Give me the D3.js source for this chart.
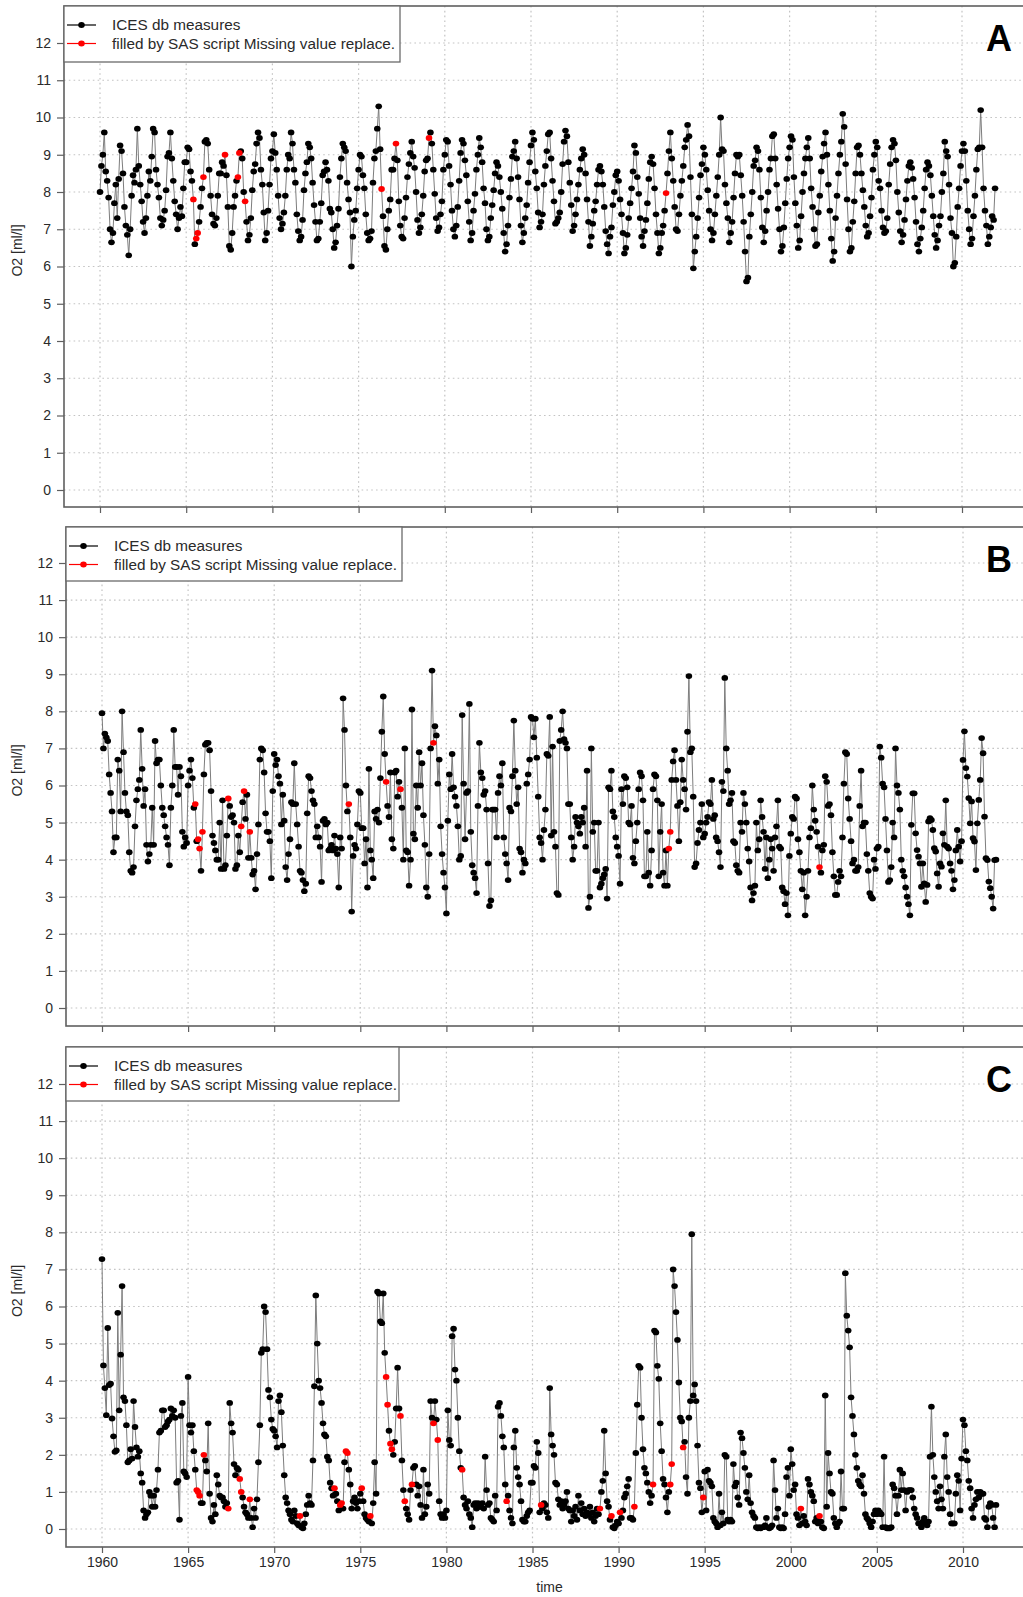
<!DOCTYPE html>
<html>
<head>
<meta charset="utf-8">
<script src="https://cdn.jsdelivr.net/npm/d3@7"></script>
<style>
  html, body { margin: 0; padding: 0; background: #fff; }
  svg { display: block; }
  text { font-family: "Liberation Sans", Arial, Helvetica, sans-serif; }
</style>
</head>
<body>
<svg id="chart" width="1023" height="1597"></svg>
<script>
// ---- data: monthly O2 [ml/l], one row per year (Jan..Dec), 1960-2011 ----
const firstYear = 1960;
const yTicks = [0, 1, 2, 3, 4, 5, 6, 7, 8, 9, 10, 11, 12];
const xTicks = [1960, 1965, 1970, 1975, 1980, 1985, 1990, 1995, 2000, 2005, 2010];
const legendLabels = ["ICES db measures", "filled by SAS script Missing value replace."];
const panelLetters = ["A", "B", "C"];
const yAxisTitle = "O2 [ml/l]";
const xAxisTitle = "time";

const oxygenA = [
  [8.0, 8.7, 9.0, 9.6, 8.55, 8.3, 7.85, 7.0, 6.65, 6.9, 7.7, 8.2],
  [7.3, 8.35, 9.25, 9.1, 8.5, 7.6, 7.1, 6.85, 6.3, 7.0, 7.9, 8.45],
  [8.25, 8.6, 9.7, 8.7, 8.2, 7.75, 7.2, 6.9, 7.3, 7.9, 8.55, 8.3],
  [8.95, 9.7, 9.6, 8.6, 8.2, 7.85, 7.3, 7.1, 7.25, 7.5, 8.05, 8.95],
  [9.05, 9.6, 8.9, 8.3, 7.75, 7.4, 7.0, 7.3, 7.6, 7.35, 8.1, 8.8],
  [8.8, 9.2, 9.15, 8.55, 8.3, 7.8, 6.6, 6.75, 6.9, 7.2, 7.6, 8.1],
  [8.4, 9.35, 9.4, 9.3, 8.6, 7.9, 7.4, 7.15, 7.1, 7.3, 7.9, 8.5],
  [8.5, 8.8, 8.7, 9.0, 8.45, 7.6, 6.55, 6.45, 6.9, 7.6, 7.9, 8.3],
  [8.4, 9.05, 9.1, 8.9, 8.0, 7.75, 7.2, 6.7, 6.85, 7.3, 8.05, 8.55],
  [8.75, 9.3, 9.6, 9.45, 8.6, 8.2, 7.45, 6.7, 6.9, 7.5, 8.2, 8.9],
  [9.1, 9.55, 9.05, 8.6, 7.9, 7.3, 7.0, 7.15, 7.45, 7.9, 8.6, 9.0],
  [8.9, 9.6, 9.3, 8.6, 8.25, 7.4, 6.95, 6.7, 6.8, 7.25, 8.05, 8.5],
  [8.8, 9.3, 9.2, 8.9, 8.25, 7.65, 7.2, 6.7, 6.75, 7.2, 7.7, 8.45],
  [8.55, 8.8, 8.6, 8.3, 7.55, 7.45, 7.0, 6.5, 6.65, 7.1, 7.55, 8.4],
  [8.9, 9.3, 9.2, 9.1, 8.25, 7.8, 7.45, 6.0, 6.8, 7.25, 7.5, 8.1],
  [8.6, 9.0, 8.95, 8.45, 8.1, 7.4, 6.9, 6.7, 6.75, 6.95, 8.25, 8.9],
  [9.1, 9.7, 10.3, 9.15, 8.08, 7.35, 6.55, 6.45, 7.0, 7.5, 7.8, 8.6],
  [8.6, 8.9, 9.3, 8.85, 7.75, 7.1, 6.8, 6.75, 7.3, 7.85, 8.4, 8.75],
  [9.05, 9.35, 8.95, 8.65, 8.0, 7.25, 6.9, 7.05, 7.4, 7.9, 8.55, 8.85],
  [8.9, 9.45, 9.6, 9.3, 8.6, 7.95, 7.3, 6.95, 7.05, 7.4, 7.75, 8.6],
  [9.0, 9.4, 9.35, 8.7, 8.2, 7.5, 7.0, 6.8, 7.1, 7.6, 8.3, 9.05],
  [9.4, 9.3, 8.85, 8.45, 7.75, 7.2, 6.7, 6.9, 7.5, 7.95, 8.6, 9.0],
  [9.45, 9.2, 8.8, 8.1, 7.7, 7.0, 6.7, 6.8, 7.3, 7.65, 8.05, 8.5],
  [8.8, 8.7, 8.4, 8.0, 7.55, 6.9, 6.4, 6.6, 7.1, 7.85, 8.35, 8.95],
  [9.1, 9.35, 8.9, 8.4, 7.8, 7.1, 6.65, 6.9, 7.3, 7.65, 8.25, 8.8],
  [9.25, 9.6, 9.4, 8.55, 8.1, 7.45, 7.05, 7.2, 7.4, 8.2, 8.7, 9.1],
  [9.55, 9.6, 8.9, 8.3, 7.75, 7.15, 7.2, 7.3, 7.45, 8.0, 8.75, 9.35],
  [9.65, 9.5, 8.8, 8.25, 7.65, 6.95, 7.1, 7.4, 7.8, 8.2, 8.6, 8.9],
  [9.15, 9.0, 8.5, 7.8, 7.2, 6.55, 6.8, 7.15, 7.5, 7.75, 8.2, 8.6],
  [8.7, 8.55, 8.2, 7.6, 6.95, 6.6, 6.35, 6.8, 7.05, 7.65, 8.0, 8.45],
  [8.55, 8.3, 7.8, 7.4, 6.9, 6.35, 6.5, 6.85, 7.3, 7.7, 8.1, 8.55],
  [9.25, 9.05, 8.4, 7.95, 7.3, 6.8, 6.55, 6.95, 7.25, 7.7, 8.35, 8.8],
  [8.95, 8.75, 8.1, 7.4, 6.9, 6.35, 6.5, 6.9, 7.1, 7.5, 7.97, 8.5],
  [9.1, 9.6, 8.9, 8.3, 7.6, 7.0, 6.95, 7.4, 7.9, 8.3, 8.7, 9.2],
  [9.4, 9.8, 9.5, 8.4, 7.4, 5.95, 6.4, 6.8, 7.3, 7.85, 8.45, 8.75],
  [9.2, 9.0, 8.6, 8.05, 7.5, 7.0, 6.7, 6.9, 7.4, 7.9, 8.4, 9.0],
  [10.0, 9.15, 9.1, 8.2, 7.7, 7.3, 6.65, 6.9, 7.2, 7.85, 8.5, 9.0],
  [8.95, 9.0, 8.45, 7.9, 7.2, 6.4, 5.6, 5.7, 6.8, 7.4, 8.0, 8.7],
  [8.85, 9.2, 9.1, 8.6, 7.85, 7.05, 6.65, 6.95, 7.5, 8.0, 8.6, 8.9],
  [9.5, 9.55, 8.9, 8.2, 7.55, 7.0, 6.4, 6.55, 7.05, 7.7, 8.35, 8.9],
  [9.2, 9.5, 9.4, 8.4, 7.7, 7.1, 6.5, 6.7, 7.35, 8.0, 8.5, 8.9],
  [9.2, 9.45, 8.9, 8.1, 7.6, 7.0, 6.55, 6.6, 7.45, 7.9, 8.55, 8.95],
  [9.3, 9.6, 9.0, 8.2, 7.5, 6.75, 6.15, 6.4, 7.3, 7.9, 8.5, 9.0],
  [9.35, 10.1, 9.75, 8.75, 7.8, 7.0, 6.4, 6.5, 7.2, 7.75, 8.5, 9.2],
  [9.25, 9.0, 8.5, 8.05, 7.6, 7.1, 6.8, 6.9, 7.35, 7.85, 8.6, 9.0],
  [9.35, 9.2, 8.3, 8.1, 7.5, 7.05, 6.9, 6.95, 7.3, 8.2, 8.75, 9.2],
  [9.4, 9.3, 8.85, 8.0, 7.45, 6.95, 6.65, 6.85, 7.25, 7.8, 8.3, 8.7],
  [8.8, 8.65, 8.35, 7.85, 7.2, 6.6, 6.4, 6.75, 7.05, 7.5, 8.1, 8.6],
  [8.8, 8.7, 8.45, 7.9, 7.35, 6.85, 6.5, 6.7, 7.1, 7.35, 8.0, 8.5],
  [9.35, 9.1, 8.95, 8.2, 7.3, 6.9, 6.0, 6.1, 6.8, 7.6, 8.1, 8.7],
  [9.1, 9.3, 9.1, 8.3, 7.5, 7.0, 6.6, 6.75, 7.35, 7.9, 8.6, 9.15],
  [9.2, 10.2, 9.2, 8.1, 7.5, 7.1, 6.6, 6.8, 7.05, 7.35, 7.25, 8.1]
];
const filledA = [[1965,5],[1965,7],[1965,8],[1966,0],[1967,3],[1968,0],[1968,1],[1968,5],
  [1976,4],[1977,2],[1979,1],[1992,10]];

const oxygenB = [
  [7.95, 7.0, 7.4, 7.3, 7.2, 6.3, 5.8, 5.3, 4.2, 4.6, 4.6, 6.7],
  [6.4, 5.3, 8.0, 6.9, 5.8, 5.3, 5.2, 4.2, 3.7, 3.65, 3.8, 4.9],
  [5.6, 5.9, 6.15, 7.5, 6.45, 5.45, 5.9, 4.4, 3.95, 4.15, 4.4, 5.4],
  [4.4, 7.2, 6.6, 6.7, 6.7, 6.0, 5.4, 5.2, 4.9, 4.6, 4.4, 3.85],
  [5.4, 6.0, 7.5, 6.5, 6.5, 5.75, 6.5, 6.25, 4.75, 4.35, 4.6, 4.45],
  [6.0, 6.4, 6.7, 6.2, 5.4, 5.5, 4.5, 4.55, 4.3, 3.7, 4.75, 6.3],
  [7.1, 7.15, 7.15, 6.95, 5.85, 4.65, 4.45, 4.25, 4.0, 4.0, 5.0, 3.75],
  [5.6, 3.75, 3.85, 4.65, 5.65, 5.45, 5.15, 5.2, 5.0, 3.75, 3.85, 4.65],
  [4.2, 4.9, 5.55, 5.85, 5.1, 5.75, 4.05, 4.75, 4.05, 3.6, 3.7, 3.2],
  [4.15, 4.95, 6.7, 7.0, 6.95, 6.35, 5.25, 4.75, 4.75, 4.5, 3.5, 5.85],
  [6.85, 6.55, 6.7, 6.25, 6.05, 4.95, 5.75, 5.05, 3.8, 3.45, 4.15, 4.55],
  [5.55, 5.5, 6.6, 5.5, 4.95, 4.35, 3.7, 3.65, 3.45, 3.15, 3.35, 5.25],
  [6.25, 6.2, 5.85, 5.6, 5.5, 4.6, 4.9, 4.6, 4.35, 3.4, 5.05, 5.1],
  [4.95, 5.0, 4.25, 4.3, 4.4, 4.25, 4.65, 4.3, 4.15, 3.25, 4.6, 4.3],
  [8.35, 7.5, 6.0, 5.3, 5.5, 4.6, 2.6, 4.1, 4.4, 4.3, 4.95, 5.85],
  [5.8, 4.85, 4.85, 3.9, 4.55, 3.25, 6.45, 4.25, 4.0, 3.5, 5.3, 5.1],
  [5.35, 5.0, 6.2, 7.45, 8.4, 6.85, 6.1, 5.45, 5.15, 6.35, 4.55, 4.3],
  [6.35, 6.4, 5.7, 6.1, 5.9, 5.4, 4.0, 7.0, 4.25, 4.2, 3.3, 4.0],
  [8.05, 4.7, 4.55, 6.0, 5.4, 6.9, 6.0, 6.6, 5.2, 4.4, 3.25, 3.0],
  [4.15, 7.0, 9.1, 7.15, 7.6, 7.35, 6.05, 6.7, 4.9, 4.15, 3.65, 3.25],
  [2.55, 5.05, 6.3, 5.9, 6.85, 5.95, 5.7, 5.45, 4.9, 4.0, 4.1, 7.9],
  [6.05, 4.55, 5.8, 5.85, 8.2, 4.75, 3.85, 3.65, 3.5, 3.1, 5.45, 7.15],
  [6.35, 6.2, 5.75, 5.85, 5.35, 3.9, 2.75, 2.9, 5.35, 5.35, 5.35, 4.6],
  [5.8, 6.25, 6.0, 6.6, 4.6, 4.15, 3.9, 3.45, 5.4, 5.3, 6.25, 7.75],
  [6.4, 5.5, 5.95, 4.3, 4.2, 3.65, 4.0, 3.9, 6.05, 6.3, 6.7, 7.85],
  [7.8, 7.3, 7.8, 6.75, 5.7, 4.6, 4.45, 4.0, 4.8, 5.35, 6.85, 6.8],
  [7.85, 4.65, 7.05, 4.75, 4.35, 3.1, 3.05, 7.2, 7.5, 8.0, 7.25, 7.15],
  [7.0, 5.5, 5.5, 4.6, 4.0, 4.35, 5.15, 5.0, 4.9, 4.7, 5.15, 5.0],
  [5.4, 4.35, 6.4, 2.7, 3.0, 7.0, 4.75, 5.0, 3.7, 3.7, 5.0, 3.25],
  [3.35, 3.5, 3.6, 3.75, 2.95, 5.95, 5.9, 6.4, 5.3, 5.15, 4.6, 4.35],
  [4.1, 3.35, 5.9, 5.5, 6.25, 6.2, 5.95, 5.0, 4.95, 5.45, 4.05, 3.9],
  [4.5, 5.0, 5.9, 6.35, 6.25, 5.6, 3.55, 3.55, 4.75, 3.65, 3.3, 4.25],
  [5.9, 6.3, 6.25, 5.6, 3.55, 4.75, 5.5, 3.65, 3.3, 4.25, 3.3, 4.3],
  [4.75, 6.15, 6.65, 6.95, 6.15, 5.45, 4.5, 5.55, 6.7, 6.15, 5.9, 5.35],
  [7.45, 8.95, 6.9, 7.0, 5.7, 3.8, 3.9, 4.45, 4.8, 5.0, 5.5, 4.6],
  [4.7, 5.0, 5.15, 5.55, 5.5, 6.15, 5.1, 5.2, 4.6, 4.5, 4.2, 3.8],
  [6.1, 5.85, 8.9, 7.0, 6.4, 5.5, 5.6, 5.8, 4.5, 4.45, 3.85, 3.7],
  [3.65, 5.0, 4.75, 5.8, 5.5, 5.0, 4.3, 3.95, 3.25, 2.9, 3.1, 3.3],
  [5.0, 4.25, 4.55, 5.6, 5.15, 4.75, 3.75, 4.6, 3.5, 4.0, 4.55, 4.3],
  [3.7, 4.6, 4.9, 5.6, 4.35, 4.3, 3.25, 3.15, 2.8, 3.1, 2.5, 4.1],
  [4.7, 5.15, 5.1, 5.7, 5.65, 4.55, 4.2, 3.7, 3.2, 3.65, 2.5, 3.0],
  [3.7, 4.6, 4.85, 6.0, 5.35, 5.05, 4.75, 4.35, 3.8, 3.65, 4.25, 4.4],
  [6.25, 6.1, 5.45, 5.5, 5.2, 4.2, 3.55, 3.05, 3.05, 3.4, 3.7, 3.55],
  [4.6, 6.05, 6.9, 6.85, 5.65, 5.1, 4.5, 3.9, 4.0, 3.7, 3.7, 3.8],
  [5.45, 6.4, 4.9, 5.0, 5.0, 4.15, 3.7, 3.1, 3.0, 2.95, 4.0, 3.75],
  [4.3, 4.35, 7.05, 6.75, 6.05, 5.95, 5.1, 4.25, 3.4, 3.45, 3.8, 5.0],
  [4.6, 7.0, 6.0, 5.8, 5.35, 4.0, 3.7, 3.55, 3.25, 3.0, 2.8, 2.5],
  [4.94, 5.79, 5.79, 4.71, 4.26, 4.08, 3.9, 3.27, 3.9, 3.36, 2.86, 3.32],
  [5.03, 5.12, 5.07, 4.8, 4.31, 4.22, 3.63, 3.27, 3.9, 3.81, 4.71, 4.4],
  [5.6, 4.35, 4.3, 3.9, 3.7, 3.2, 3.45, 4.25, 4.8, 4.35, 3.95, 4.5],
  [6.69, 7.46, 6.47, 6.24, 5.66, 4.98, 5.57, 4.58, 4.49, 3.72, 4.98, 5.61],
  [6.15, 7.28, 6.87, 5.16, 4.04, 3.99, 3.41, 3.23, 3.0, 2.68, 3.99, 4.0]
];
const filledB = [[1965,5],[1965,7],[1965,8],[1965,10],[1967,4],[1968,1],[1968,3],[1968,7],
  [1974,4],[1976,6],[1977,4],[1979,3],[1992,11],[1993,0],[2001,8]];

const oxygenC = [
  [7.28, 4.41, 3.8, 3.07, 5.42, 3.88, 3.92, 2.98, 2.5, 2.08, 2.12, 5.83],
  [3.2, 4.7, 6.55, 3.55, 3.45, 2.8, 1.8, 1.85, 2.15, 1.9, 3.45, 2.75],
  [2.2, 1.95, 2.1, 1.5, 1.25, 0.5, 0.3, 0.4, 0.45, 1.0, 0.9, 0.6],
  [0.9, 0.6, 1.05, 1.6, 2.6, 2.65, 3.2, 3.2, 2.75, 2.8, 2.9, 2.95],
  [3.25, 3.05, 3.2, 3.0, 1.25, 1.3, 0.25, 3.05, 3.4, 1.55, 1.5, 1.4],
  [4.1, 2.8, 2.6, 2.8, 2.1, 1.6, 1.05, 1.0, 0.9, 0.7, 0.7, 2.0],
  [1.85, 1.55, 2.85, 0.95, 0.3, 0.2, 0.65, 0.4, 1.45, 1.2, 0.9, 0.85],
  [0.85, 0.75, 0.6, 0.7, 0.55, 3.4, 2.85, 2.6, 1.75, 1.45, 1.65, 1.6],
  [1.35, 1.0, 0.85, 0.6, 0.45, 0.4, 0.3, 0.8, 0.3, 0.05, 0.55, 0.3],
  [0.8, 1.8, 2.8, 4.75, 4.85, 6.0, 5.85, 4.85, 3.75, 3.55, 2.95, 2.7],
  [2.65, 2.5, 2.2, 3.45, 3.6, 3.15, 2.25, 1.45, 0.85, 0.7, 0.5, 0.4],
  [0.25, 0.2, 0.5, 0.35, 0.15, 0.1, 0.35, 0.05, 0.02, 0.15, 0.4, 0.65],
  [0.9, 0.7, 0.65, 1.85, 3.85, 6.3, 5.0, 4.0, 3.8, 3.4, 2.85, 2.55],
  [2.5, 1.95, 1.85, 1.25, 1.1, 0.9, 1.1, 0.95, 0.75, 0.5, 0.65, 0.7],
  [0.55, 1.8, 2.1, 2.05, 1.6, 1.2, 0.55, 0.75, 0.85, 0.7, 0.55, 0.75],
  [0.95, 1.1, 0.75, 0.4, 0.3, 0.25, 0.2, 0.35, 0.15, 0.7, 1.8, 0.95],
  [6.4, 6.35, 5.6, 5.55, 6.35, 4.75, 4.1, 3.35, 2.65, 2.3, 2.15, 2.0],
  [2.35, 3.25, 4.35, 3.25, 3.05, 1.85, 1.05, 0.75, 0.55, 0.4, 0.25, 1.05],
  [1.2, 1.65, 1.7, 1.2, 0.9, 1.15, 0.65, 0.3, 1.6, 0.4, 0.6, 1.2],
  [0.95, 3.45, 3.0, 2.85, 3.45, 2.95, 2.4, 0.75, 0.4, 0.3, 0.4, 0.3],
  [0.5, 3.2, 2.4, 2.25, 5.2, 5.4, 4.3, 4.0, 3.0, 2.1, 1.65, 1.6],
  [0.85, 0.65, 0.55, 0.75, 0.4, 0.3, 0.05, 0.65, 0.7, 0.55, 0.7, 0.6],
  [0.6, 0.7, 0.55, 1.95, 1.05, 0.65, 0.7, 0.3, 0.25, 0.2, 0.9, 0.5],
  [3.3, 3.4, 3.05, 2.5, 2.2, 1.2, 0.75, 0.9, 0.5, 0.3, 0.15, 2.2],
  [2.65, 1.65, 1.4, 1.2, 0.75, 0.25, 0.2, 0.2, 0.35, 0.45, 0.5, 1.25],
  [1.25, 1.7, 1.65, 2.35, 2.05, 0.45, 0.65, 0.55, 0.7, 0.65, 0.45, 0.3],
  [3.8, 2.55, 2.25, 2.0, 1.25, 1.2, 0.8, 0.65, 0.75, 0.55, 0.65, 0.75],
  [1.0, 0.55, 0.5, 0.2, 0.5, 0.35, 0.6, 0.25, 0.9, 0.5, 0.7, 0.4],
  [0.55, 0.35, 0.45, 0.4, 0.6, 0.3, 0.45, 0.2, 0.35, 0.55, 0.4, 0.55],
  [1.0, 1.3, 2.65, 1.5, 0.75, 0.6, 0.25, 0.35, 0.05, 0.02, 0.1, 0.2],
  [0.15, 0.45, 0.3, 0.5, 0.85, 0.95, 1.15, 1.35, 0.3, 0.3, 0.25, 0.6],
  [2.05, 3.35, 4.4, 4.35, 3.0, 2.15, 1.65, 1.5, 1.25, 1.0, 0.7, 0.9],
  [1.2, 5.35, 5.3, 4.4, 4.05, 2.85, 2.1, 1.35, 1.2, 0.85, 0.45, 1.0],
  [1.2, 1.75, 7.0, 6.55, 5.85, 5.1, 3.95, 3.0, 2.9, 2.2, 2.35, 1.4],
  [0.95, 3.0, 3.45, 7.95, 3.6, 3.9, 3.45, 2.25, 1.25, 1.1, 0.45, 0.85],
  [1.55, 0.5, 1.6, 1.3, 1.25, 1.15, 0.3, 0.2, 0.15, 0.05, 0.95, 0.1],
  [0.45, 0.15, 2.0, 1.95, 0.25, 0.2, 0.25, 0.2, 1.75, 1.15, 1.25, 0.85],
  [0.65, 2.6, 2.45, 2.05, 1.65, 1.0, 0.8, 1.45, 0.7, 0.45, 0.35, 0.3],
  [0.05, 0.02, 0.05, 0.02, 0.05, 0.05, 0.1, 0.3, 0.05, 0.02, 0.05, 0.1],
  [1.85, 1.05, 0.3, 0.55, 0.05, 0.02, 0.05, 0.02, 0.4, 1.4, 1.65, 0.9],
  [2.15, 1.75, 1.05, 1.2, 0.4, 0.3, 0.1, 0.55, 0.15, 0.35, 0.2, 0.1],
  [1.35, 1.2, 1.0, 0.9, 0.75, 0.2, 0.3, 0.15, 0.35, 0.2, 0.05, 0.02],
  [3.6, 0.6, 2.05, 1.5, 1.0, 0.95, 0.3, 0.15, 0.05, 0.15, 0.2, 1.55],
  [0.55, 0.55, 6.9, 5.75, 5.35, 4.9, 3.55, 3.05, 2.55, 2.0, 1.65, 1.3],
  [1.2, 1.15, 1.45, 0.95, 0.4, 0.3, 0.25, 0.15, 0.05, 0.2, 0.4, 0.5],
  [0.4, 0.5, 0.45, 0.4, 0.05, 1.95, 0.05, 0.02, 0.02, 0.02, 0.05, 1.2],
  [1.1, 0.9, 0.4, 0.9, 1.6, 1.05, 1.5, 1.05, 0.5, 1.0, 1.05, 1.05],
  [1.05, 0.85, 0.55, 0.4, 0.3, 0.15, 0.15, 0.05, 0.2, 0.3, 0.15, 0.1],
  [0.2, 1.95, 3.3, 2.0, 1.4, 1.0, 0.75, 0.55, 1.15, 0.8, 0.55, 1.95],
  [2.55, 1.4, 1.0, 0.4, 0.15, 0.15, 0.15, 0.95, 1.45, 1.3, 0.5, 1.9],
  [2.95, 2.8, 2.1, 1.85, 1.3, 1.1, 0.55, 0.3, 0.65, 0.8, 1.0, 0.85],
  [1.0, 0.95, 0.95, 0.3, 0.25, 0.05, 0.6, 0.7, 0.65, 0.3, 0.05, 0.65]
];
const filledC = [[1965,6],[1965,7],[1965,8],[1965,11],[1967,4],[1968,0],[1968,1],[1968,7],
  [1971,6],[1973,6],[1973,10],[1973,11],[1974,2],[1974,3],[1975,1],[1975,7],
  [1976,6],[1976,7],[1976,9],[1976,10],[1977,4],[1977,7],[1978,0],[1979,3],[1979,6],
  [1980,11],[1983,6],[1985,6],[1988,11],[1989,7],[1990,1],[1990,11],[1992,0],
  [1993,0],[1993,1],[1993,9],[1994,11],[2000,7],[2001,8]];

// ---- layout of the three stacked panels ----
const panels = [
  { letter: panelLetters[0], values: oxygenA, filled: filledA,
    top: 6, bottom: 507, yZero: 490, yTwelve: 43, axisX: 64, x1960: 100, x2010: 962,
    legendX: 64, legendW: 336, legendH: 56, yearLabels: false },
  { letter: panelLetters[1], values: oxygenB, filled: filledB,
    top: 527, bottom: 1026, yZero: 1008, yTwelve: 563, axisX: 66, x1960: 102, x2010: 963,
    legendX: 66, legendW: 336, legendH: 54, yearLabels: false },
  { letter: panelLetters[2], values: oxygenC, filled: filledC,
    top: 1047, bottom: 1547, yZero: 1529, yTwelve: 1084, axisX: 66, x1960: 102, x2010: 963,
    legendX: 66, legendW: 333, legendH: 54, yearLabels: true }
];

const W = 1023;
const svg = d3.select("#chart");
svg.append("rect").attr("width", W).attr("height", 1597).attr("fill", "#fff");

const gridColor = "#c4c4c4";
const frameColor = "#5f5f5f";
const textColor = "#2a2a2a";

panels.forEach(p => {
  const g = svg.append("g");
  const x = d3.scaleLinear().domain([1960, 2010]).range([p.x1960, p.x2010]);
  const y = d3.scaleLinear().domain([0, 12]).range([p.yZero, p.yTwelve]);
  const right = W + 20;

  const filledKeys = new Set(p.filled.map(d => d[0] + "-" + d[1]));
  const series = p.values.flatMap((row, i) => row.map((v, m) => ({
    t: firstYear + i + m / 12,
    v: v,
    filled: filledKeys.has((firstYear + i) + "-" + m)
  })));

  // dotted grid
  g.append("g").selectAll("line").data(yTicks).join("line")
    .attr("x1", p.axisX).attr("x2", right)
    .attr("y1", d => y(d)).attr("y2", d => y(d))
    .attr("stroke", gridColor).attr("stroke-width", 1.2)
    .attr("stroke-dasharray", "1.6,3.2");
  g.append("g").selectAll("line").data(xTicks).join("line")
    .attr("x1", d => x(d)).attr("x2", d => x(d))
    .attr("y1", p.top).attr("y2", p.bottom)
    .attr("stroke", gridColor).attr("stroke-width", 1.2)
    .attr("stroke-dasharray", "1.6,3.2");

  // series line and points
  const line = d3.line().x(d => x(d.t)).y(d => y(d.v));
  g.append("path").datum(series)
    .attr("d", line).attr("fill", "none")
    .attr("stroke", "#7d7d7d").attr("stroke-width", 1);
  g.append("g").selectAll("ellipse").data(series.filter(d => !d.filled)).join("ellipse")
    .attr("cx", d => x(d.t)).attr("cy", d => y(d.v))
    .attr("rx", 3.3).attr("ry", 2.9).attr("fill", "#000");
  g.append("g").selectAll("ellipse").data(series.filter(d => d.filled)).join("ellipse")
    .attr("cx", d => x(d.t)).attr("cy", d => y(d.v))
    .attr("rx", 3.3).attr("ry", 2.9).attr("fill", "#ff0000");

  // frame
  g.append("rect")
    .attr("x", p.axisX).attr("y", p.top)
    .attr("width", right - p.axisX).attr("height", p.bottom - p.top)
    .attr("fill", "none").attr("stroke", frameColor).attr("stroke-width", 1.6);

  // y axis
  const yAxis = d3.axisLeft(y).tickValues(yTicks).tickSize(7).tickPadding(6).tickFormat(d3.format("d"));
  const ya = g.append("g").attr("transform", `translate(${p.axisX},0)`).call(yAxis);
  ya.select(".domain").remove();
  ya.selectAll(".tick line").attr("stroke", frameColor).attr("stroke-width", 1.2);
  ya.selectAll(".tick text").attr("fill", textColor)
    .style("font-size", "14px").style("font-family", "'Liberation Sans', Arial, sans-serif");

  // x axis
  const xAxis = d3.axisBottom(x).tickValues(xTicks).tickSize(6).tickPadding(4)
    .tickFormat(p.yearLabels ? d3.format("d") : () => "");
  const xa = g.append("g").attr("transform", `translate(0,${p.bottom})`).call(xAxis);
  xa.select(".domain").remove();
  xa.selectAll(".tick line").attr("stroke", frameColor).attr("stroke-width", 1.2);
  xa.selectAll(".tick text").attr("fill", textColor)
    .style("font-size", "14px").style("font-family", "'Liberation Sans', Arial, sans-serif");

  // axis titles
  g.append("text")
    .attr("transform", `translate(22,${(p.top + p.bottom) / 2 - 6}) rotate(-90)`)
    .attr("text-anchor", "middle").attr("fill", textColor)
    .style("font-size", "14px").text(yAxisTitle);
  if (p.yearLabels) {
    g.append("text").attr("x", (p.axisX + 1033) / 2).attr("y", 1592)
      .attr("text-anchor", "middle").attr("fill", textColor)
      .style("font-size", "14px").text(xAxisTitle);
  }

  // legend
  const lg = g.append("g").attr("transform", `translate(${p.legendX},${p.top})`);
  lg.append("rect").attr("width", p.legendW).attr("height", p.legendH)
    .attr("fill", "#fff").attr("stroke", "#6a6a6a").attr("stroke-width", 1.3);
  const rows = [{ label: legendLabels[0], color: "#000", dy: 19 },
                { label: legendLabels[1], color: "#ff0000", dy: 37.5 }];
  rows.forEach(r => {
    lg.append("line").attr("x1", 3).attr("x2", 32).attr("y1", r.dy).attr("y2", r.dy)
      .attr("stroke", r.color).attr("stroke-width", 1.2);
    lg.append("ellipse").attr("cx", 17.5).attr("cy", r.dy).attr("rx", 3.3).attr("ry", 2.9)
      .attr("fill", r.color);
    lg.append("text").attr("x", 48).attr("y", r.dy + 5).attr("fill", textColor)
      .style("font-size", "15.3px").text(r.label);
  });

  // panel letter
  g.append("text").attr("x", 999).attr("y", p.top + 45)
    .attr("text-anchor", "middle").attr("fill", "#000")
    .style("font-size", "36px").style("font-weight", "bold").text(p.letter);
});
</script>
</body>
</html>
